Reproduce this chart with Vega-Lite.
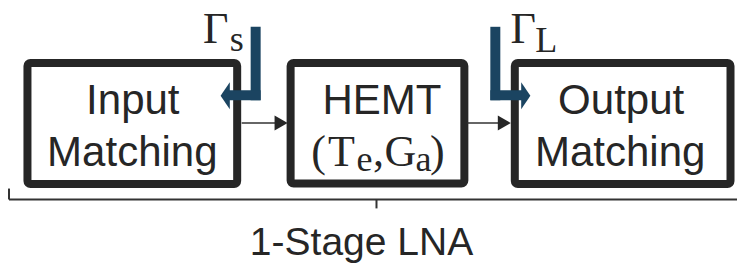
{
  "$schema": "https://vega.github.io/schema/vega-lite/v6.json",
  "width": 738,
  "height": 263,
  "padding": 0,
  "autosize": {"type": "fit", "contains": "padding"},
  "background": "white",
  "config": {"view": {"stroke": null}},
  "datasets": {
    "boxes": [
      {"block": "Input Matching", "x": 27.5, "x2": 237.5, "y": 63.5, "y2": 185.5},
      {"block": "HEMT", "x": 291, "x2": 465, "y": 63.5, "y2": 185},
      {"block": "Output Matching", "x": 515.5, "x2": 731.5, "y": 63.5, "y2": 185.5}
    ],
    "links": [
      {"part": "link1", "x": 242, "x2": 277, "y": 124, "y2": 124},
      {"part": "link2", "x": 468, "x2": 500, "y": 124, "y2": 124}
    ],
    "brace": [
      {"part": "span", "x": 9, "x2": 738, "y": 201, "y2": 201},
      {"part": "left end", "x": 9, "x2": 9, "y": 190, "y2": 201},
      {"part": "mid tick", "x": 377, "x2": 377, "y": 201, "y2": 210}
    ],
    "linkHeads": [
      {"part": "link1", "x": 281.5, "y": 124},
      {"part": "link2", "x": 505, "y": 124}
    ],
    "gammaBars": [
      {"part": "Gs vertical", "x": 251, "x2": 261, "y": 27, "y2": 101},
      {"part": "Gs horizontal", "x": 229, "x2": 261, "y": 91, "y2": 101},
      {"part": "GL vertical", "x": 491, "x2": 501, "y": 27, "y2": 101},
      {"part": "GL horizontal", "x": 491, "x2": 523, "y": 91, "y2": 101}
    ],
    "headLeft": [{"part": "Gs head", "x": 225.5, "y": 96.5}],
    "headRight": [{"part": "GL head", "x": 526.5, "y": 96.5}],
    "labels": [
      {"text": "Input", "x": 133, "y": 115},
      {"text": "Matching", "x": 132.5, "y": 167},
      {"text": "HEMT", "x": 382.5, "y": 115},
      {"text": "Output", "x": 622, "y": 115},
      {"text": "Matching", "x": 621, "y": 167}
    ],
    "mathMain": [
      {"text": "(", "x": 319, "y": 167},
      {"text": "T", "x": 342, "y": 167},
      {"text": ",", "x": 379, "y": 167},
      {"text": "G", "x": 401, "y": 167},
      {"text": ")", "x": 438, "y": 167},
      {"text": "Γ", "x": 216, "y": 43},
      {"text": "Γ", "x": 524, "y": 43}
    ],
    "mathSub": [
      {"text": "e", "x": 365, "y": 172},
      {"text": "a", "x": 424, "y": 172},
      {"text": "s", "x": 237, "y": 51},
      {"text": "L", "x": 547, "y": 52}
    ],
    "caption": [{"text": "1-Stage LNA", "x": 362, "y": 257}]
  },
  "layer": [
    {
      "data": {"name": "boxes"},
      "mark": {"type": "rect", "fill": "white", "stroke": "#262626", "strokeWidth": 8, "cornerRadius": 3},
      "encoding": {
        "x": {"field": "x", "type": "quantitative", "scale": {"domain": [0, 738], "nice": false, "zero": false}, "axis": null},
        "x2": {"field": "x2"},
        "y": {"field": "y", "type": "quantitative", "scale": {"domain": [0, 263], "nice": false, "zero": false, "reverse": true}, "axis": null},
        "y2": {"field": "y2"}
      }
    },
    {
      "data": {"name": "links"},
      "mark": {"type": "rule", "color": "#333333", "strokeWidth": 1.5},
      "encoding": {
        "x": {"field": "x", "type": "quantitative"},
        "x2": {"field": "x2"},
        "y": {"field": "y", "type": "quantitative"},
        "y2": {"field": "y2"}
      }
    },
    {
      "data": {"name": "brace"},
      "mark": {"type": "rule", "color": "#333333", "strokeWidth": 2},
      "encoding": {
        "x": {"field": "x", "type": "quantitative"},
        "x2": {"field": "x2"},
        "y": {"field": "y", "type": "quantitative"},
        "y2": {"field": "y2"}
      }
    },
    {
      "data": {"name": "linkHeads"},
      "mark": {"type": "point", "shape": "M-0.87,-1L0.87,0L-0.87,1Z", "size": 225, "filled": true, "color": "#262626", "opacity": 1},
      "encoding": {
        "x": {"field": "x", "type": "quantitative"},
        "y": {"field": "y", "type": "quantitative"}
      }
    },
    {
      "data": {"name": "gammaBars"},
      "mark": {"type": "rect", "color": "#1b4461"},
      "encoding": {
        "x": {"field": "x", "type": "quantitative"},
        "x2": {"field": "x2"},
        "y": {"field": "y", "type": "quantitative"},
        "y2": {"field": "y2"}
      }
    },
    {
      "data": {"name": "headLeft"},
      "mark": {"type": "point", "shape": "M0.34,-1L-0.34,0L0.34,1Z", "size": 729, "filled": true, "color": "#1b4461", "opacity": 1},
      "encoding": {
        "x": {"field": "x", "type": "quantitative"},
        "y": {"field": "y", "type": "quantitative"}
      }
    },
    {
      "data": {"name": "headRight"},
      "mark": {"type": "point", "shape": "M-0.34,-1L0.34,0L-0.34,1Z", "size": 729, "filled": true, "color": "#1b4461", "opacity": 1},
      "encoding": {
        "x": {"field": "x", "type": "quantitative"},
        "y": {"field": "y", "type": "quantitative"}
      }
    },
    {
      "data": {"name": "labels"},
      "mark": {"type": "text", "font": "Liberation Sans", "fontSize": 42, "color": "#262626", "align": "center", "baseline": "alphabetic"},
      "encoding": {
        "x": {"field": "x", "type": "quantitative"},
        "y": {"field": "y", "type": "quantitative"},
        "text": {"field": "text"}
      }
    },
    {
      "data": {"name": "mathMain"},
      "mark": {"type": "text", "font": "Liberation Serif", "fontSize": 44, "color": "#262626", "align": "center", "baseline": "alphabetic"},
      "encoding": {
        "x": {"field": "x", "type": "quantitative"},
        "y": {"field": "y", "type": "quantitative"},
        "text": {"field": "text"}
      }
    },
    {
      "data": {"name": "mathSub"},
      "mark": {"type": "text", "font": "Liberation Serif", "fontSize": 36, "color": "#262626", "align": "center", "baseline": "alphabetic"},
      "encoding": {
        "x": {"field": "x", "type": "quantitative"},
        "y": {"field": "y", "type": "quantitative"},
        "text": {"field": "text"}
      }
    },
    {
      "data": {"name": "caption"},
      "mark": {"type": "text", "font": "Liberation Sans", "fontSize": 39, "color": "#262626", "align": "center", "baseline": "alphabetic"},
      "encoding": {
        "x": {"field": "x", "type": "quantitative"},
        "y": {"field": "y", "type": "quantitative"},
        "text": {"field": "text"}
      }
    }
  ]
}
